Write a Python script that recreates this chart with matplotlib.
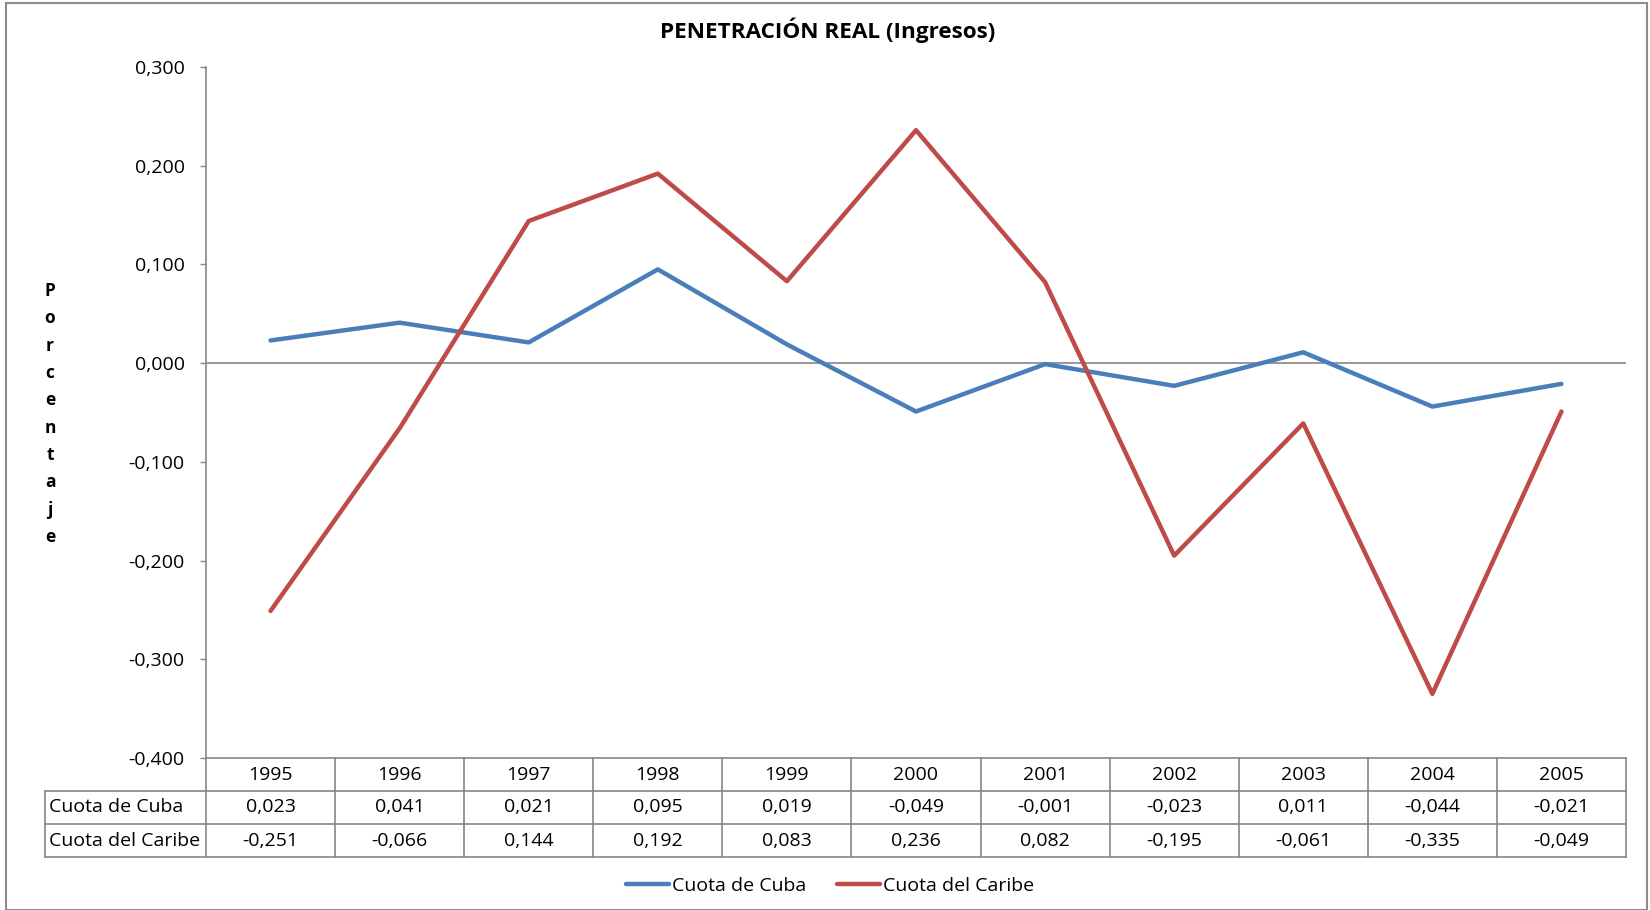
import matplotlib

matplotlib.use("Agg")
import matplotlib.pyplot as plt
from matplotlib.patches import Rectangle
from matplotlib.ticker import FuncFormatter

plt.rcParams["font.family"] = ["Open Sans", "DejaVu Sans"]

years = ["1995", "1996", "1997", "1998", "1999", "2000", "2001", "2002", "2003", "2004", "2005"]
cuota_cuba = [0.023, 0.041, 0.021, 0.095, 0.019, -0.049, -0.001, -0.023, 0.011, -0.044, -0.021]
cuota_caribe = [-0.251, -0.066, 0.144, 0.192, 0.083, 0.236, 0.082, -0.195, -0.061, -0.335, -0.049]
series_names = ["Cuota de Cuba", "Cuota del Caribe"]
yticks = [-0.4, -0.3, -0.2, -0.1, 0.0, 0.1, 0.2, 0.3]

BLUE = "#4A7EBB"
RED = "#BE4B48"
GRID = "#868686"
FS = 14


def fmt(v):
    s = f"{v:.3f}".replace(".", ",")
    return "0,000" if s == "-0,000" else s


fig = plt.figure(figsize=(16.5, 9.1), dpi=100)
ax = fig.add_axes([206 / 1650, 1 - 758 / 910, (1626 - 206) / 1650, (758 - 67) / 910])

x = list(range(len(years)))
ax.plot(x, cuota_cuba, color=BLUE, lw=3.2, solid_capstyle="round", label=series_names[0])
ax.plot(x, cuota_caribe, color=RED, lw=3.2, solid_capstyle="round", label=series_names[1])
ax.axhline(0, color=GRID, lw=1.2, zorder=0)

ax.set_xlim(-0.5, len(years) - 0.5)
ax.set_ylim(-0.4, 0.3)
ax.set_yticks(yticks)
ax.yaxis.set_major_formatter(FuncFormatter(lambda v, _: fmt(v)))
ax.tick_params(axis="y", length=4.3, width=1.0, color=GRID, pad=11, labelsize=FS)
ax.set_xticks([])
for side in ("top", "right"):
    ax.spines[side].set_visible(False)
for side in ("left", "bottom"):
    ax.spines[side].set_color(GRID)
    ax.spines[side].set_linewidth(1.2)

fig.text(828 / 1650, 1 - 30 / 910, "PENETRACIÓN REAL (Ingresos)", ha="center", va="center",
         fontsize=16.2, fontweight="bold")

# data table below the plot area, laid out on category x and axes-fraction y
trans = ax.get_xaxis_transform()
row_h = 33 / 691
label_left = -0.5 - (206 - 45) / ((1626 - 206) / len(years))
n = len(years)
lkw = dict(color=GRID, lw=1.2, transform=trans, clip_on=False)

for i in range(n + 1):
    ax.plot([i - 0.5, i - 0.5], [0, -3 * row_h], **lkw)
ax.plot([label_left, label_left], [-row_h, -3 * row_h], **lkw)
for k in (1, 2, 3):
    ax.plot([label_left, n - 0.5], [-k * row_h, -k * row_h], **lkw)

for i, yr in enumerate(years):
    ax.text(i, -0.5 * row_h, yr, transform=trans, ha="center", va="center", fontsize=FS)
for r, (name, vals) in enumerate(zip(series_names, [cuota_cuba, cuota_caribe])):
    yc = -(r + 1.5) * row_h
    ax.text(label_left + 0.03, yc, name, transform=trans, ha="left", va="center", fontsize=FS)
    for i, v in enumerate(vals):
        ax.text(i, yc, fmt(v), transform=trans, ha="center", va="center", fontsize=FS)

fig.text(50 / 1650, 1 - 414 / 910, "\n".join("Porcentaje"), ha="center", va="center",
         fontsize=12.5, fontweight="bold", linespacing=1.67)

fig.legend(loc="center", bbox_to_anchor=(830 / 1650, 1 - 886 / 910), ncol=2, frameon=False,
           fontsize=FS, handlelength=2.2, handletextpad=0.15, columnspacing=1.6)

fig.patches.append(Rectangle((6 / 1650, 0), 1641 / 1650, 907 / 910, transform=fig.transFigure,
                             fill=False, edgecolor="#8c8c8c", lw=1.5))

fig.savefig("out.png", dpi=100)
